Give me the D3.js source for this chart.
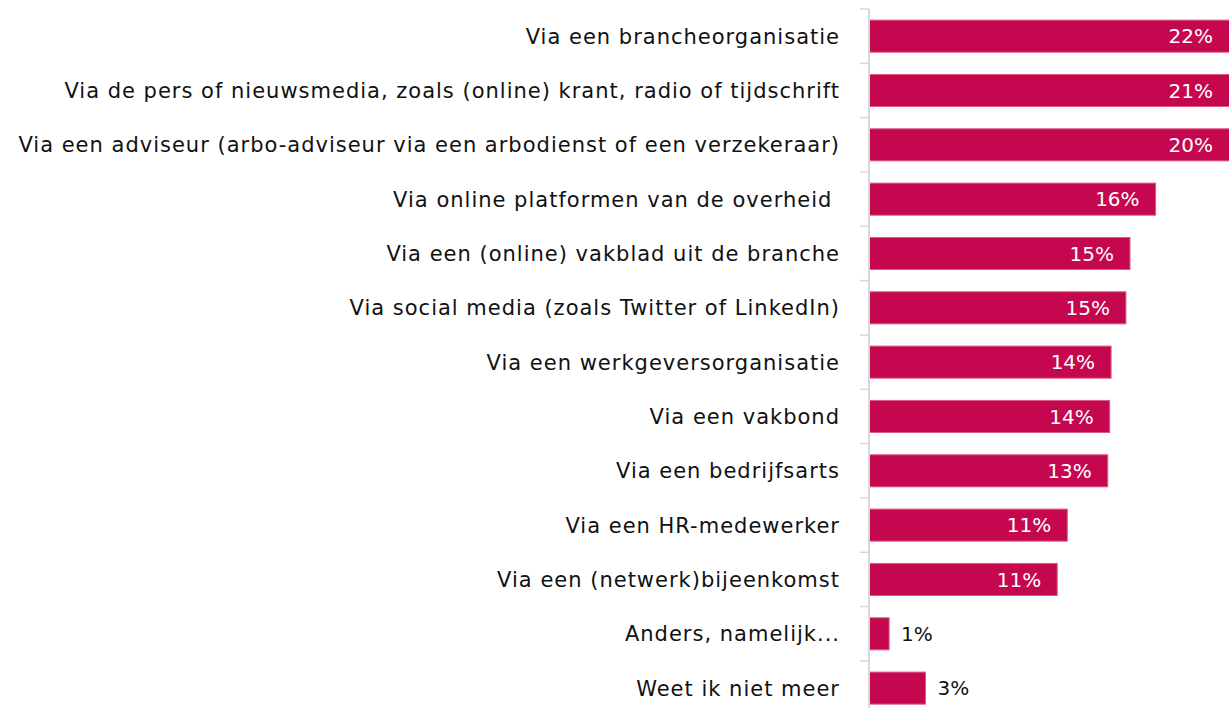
<!DOCTYPE html>
<html>
<head>
<meta charset="utf-8">
<script src="https://cdn.jsdelivr.net/npm/d3@7"></script>
<style>
  html, body { margin: 0; padding: 0; background: #fff; }
  svg { display: block; font-family: "DejaVu Sans", sans-serif; }
  .cat { white-space: pre; }
</style>
</head>
<body>
<svg width="1230" height="708"></svg>
<script>
// categories, top to bottom
const categories = [
  'Via een brancheorganisatie',
  'Via de pers of nieuwsmedia, zoals (online) krant, radio of tijdschrift',
  'Via een adviseur (arbo-adviseur via een arbodienst of een verzekeraar)',
  'Via online platformen van de overheid ',
  'Via een (online) vakblad uit de branche',
  'Via social media (zoals Twitter of LinkedIn)',
  'Via een werkgeversorganisatie',
  'Via een vakbond',
  'Via een bedrijfsarts',
  'Via een HR-medewerker',
  'Via een (netwerk)bijeenkomst',
  'Anders, namelijk...',
  'Weet ik niet meer'
];

// percentages
const values = [22.3, 21.3, 20.4, 16.2, 14.75, 14.52, 13.68, 13.6, 13.49, 11.2, 10.63, 1.11, 3.17];

const svg = d3.select('svg');
const W = 1230, H = 708;
const axisX = 869;

const x = d3.scaleLinear()
  .domain([0, 1])
  .range([axisX + 0.5, axisX + 0.5 + 17.66]);

const y = d3.scaleBand()
  .domain(categories)
  .range([9, 9 + 13 * 54.33])
  .paddingInner(0.41)
  .paddingOuter(0.205);

svg.append('clipPath').attr('id', 'plot')
  .append('rect')
  .attr('x', axisX).attr('y', 0)
  .attr('width', W - axisX - 1).attr('height', H);

// bars
svg.append('g')
  .attr('clip-path', 'url(#plot)')
  .selectAll('rect')
  .data(values)
  .enter()
  .append('rect')
  .attr('x', x(0))
  .attr('y', (d, i) => y(categories[i]))
  .attr('width', d => x(d) - x(0))
  .attr('height', y.bandwidth())
  .attr('fill', '#c5074f')
  .attr('stroke', '#dc5a85')
  .attr('stroke-width', 1);

// y axis: line + ticks between categories
const step = y.step();
const ticks = d3.range(categories.length + 1).map(i => 9 + i * step);

svg.append('line')
  .attr('x1', axisX).attr('x2', axisX)
  .attr('y1', 9).attr('y2', H)
  .attr('stroke', '#d8d8d8')
  .attr('stroke-width', 2);

svg.selectAll('.tick')
  .data(ticks)
  .enter()
  .append('line')
  .attr('class', 'tick')
  .attr('x1', 860).attr('x2', axisX)
  .attr('y1', d => d).attr('y2', d => d)
  .attr('stroke', '#d8d8d8')
  .attr('stroke-width', 1.5);

// category labels
svg.selectAll('.cat')
  .data(categories)
  .enter()
  .append('text')
  .attr('class', 'cat')
  .attr('x', 840)
  .attr('y', d => y(d) + y.bandwidth() / 2)
  .attr('dy', '0.36em')
  .attr('text-anchor', 'end')
  .attr('font-size', 21)
  .attr('letter-spacing', 1.0)
  .attr('fill', '#111')
  .text(d => d);

// value labels
const fmt = d => d3.format('.0f')(d) + '%';
const xMax = W - 1;

svg.selectAll('.val')
  .data(values)
  .enter()
  .append('text')
  .attr('class', 'val')
  .attr('y', (d, i) => y(categories[i]) + y.bandwidth() / 2)
  .attr('dy', '0.36em')
  .attr('font-size', 20)
  .each(function (d) {
    const end = Math.min(x(d), xMax);
    const inside = x(d) - x(0) > 60;
    d3.select(this)
      .attr('x', inside ? end - 16 : end + 12)
      .attr('text-anchor', inside ? 'end' : 'start')
      .attr('fill', inside ? '#fff' : '#111');
  })
  .text(fmt);
</script>
</body>
</html>
